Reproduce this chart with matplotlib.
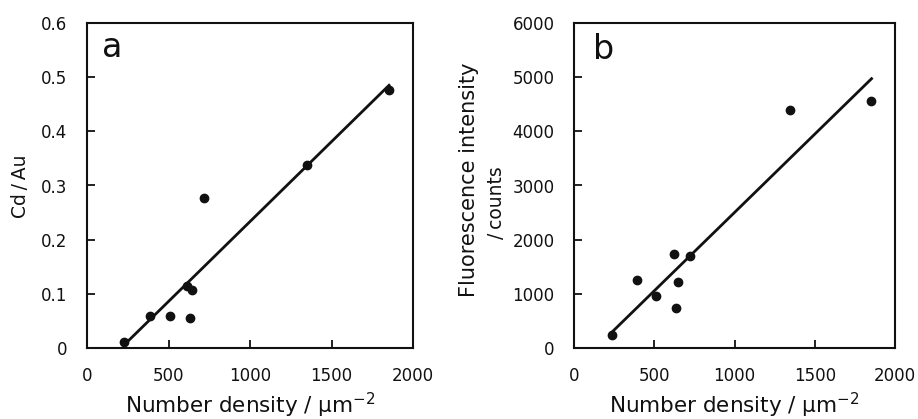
import matplotlib
matplotlib.use("Agg")
import matplotlib.pyplot as plt

plt.rcParams['font.family'] = ['DejaVu Sans']

# Panel a data
density_a = [229, 388, 510, 616, 643, 633, 718, 1347, 1853]
cd_au = [0.011, 0.060, 0.060, 0.115, 0.108, 0.055, 0.276, 0.338, 0.476]
fit_x_a = [229, 1853]
fit_y_a = [0.006, 0.485]

# Panel b data
density_b = [235, 390, 513, 623, 646, 636, 721, 1346, 1848]
fluor = [246, 1249, 954, 1735, 1212, 732, 1705, 4388, 4554]
fit_x_b = [235, 1854]
fit_y_b = [289, 4972]

x_ticks = [0, 500, 1000, 1500, 2000]
a_ticks = [0, 0.1, 0.2, 0.3, 0.4, 0.5, 0.6]
a_ticklabels = ['0', '0.1', '0.2', '0.3', '0.4', '0.5', '0.6']
b_ticks = [0, 1000, 2000, 3000, 4000, 5000, 6000]

W, H = 918, 419
fig = plt.figure(figsize=(W / 100, H / 100), dpi=100)

def rect(l, r, t, b):
    return [l / W, 1 - b / H, (r - l) / W, (b - t) / H]

def ftext(x, y, s, **kw):
    fig.text(x / W, 1 - y / H, s, **kw)

ax1 = fig.add_axes(rect(87, 413, 23, 348))
ax2 = fig.add_axes(rect(574, 895, 23, 348))

xlabel = r'Number density / μm$^{\mathregular{-2}}$'
ink = '#111111'

for ax in (ax1, ax2):
    ax.set_xlim(0, 2000)
    ax.set_xticks(x_ticks)
    ax.set_xticklabels([str(t) for t in x_ticks])
    for s in ax.spines.values():
        s.set_linewidth(1.5)
        s.set_color(ink)
    ax.tick_params(direction='in', length=5.5, width=1.3, labelsize=12,
                   colors=ink)
    ax.tick_params(axis='x', pad=14)
    ax.tick_params(axis='y', pad=14)
    ax.set_xlabel(xlabel, fontsize=15.5, labelpad=4, color=ink)

ax1.plot(fit_x_a, fit_y_a, color=ink, lw=2)
ax1.plot(density_a, cd_au, 'o', color=ink, ms=6)
ax1.set_ylim(0, 0.6)
ax1.set_yticks(a_ticks)
ax1.set_yticklabels(a_ticklabels)
ax1.text(0.045, 0.895, 'a', transform=ax1.transAxes, fontsize=24,
         va='baseline', ha='left', color=ink)
ftext(20, 186, 'Cd\u2009/\u2009Au', rotation=90, fontsize=13.5, ha='center',
      va='center', color=ink)

ax2.plot(fit_x_b, fit_y_b, color=ink, lw=2)
ax2.plot(density_b, fluor, 'o', color=ink, ms=6)
ax2.set_ylim(0, 6000)
ax2.set_yticks(b_ticks)
ax2.set_yticklabels([str(t) for t in b_ticks])
ax2.text(0.06, 0.89, 'b', transform=ax2.transAxes, fontsize=24,
         va='baseline', ha='left', color=ink)
ftext(469, 180, 'Fluorescence intensity', rotation=90, fontsize=15,
      ha='center', va='center', color=ink)
ftext(497, 203, '/\u2009counts', rotation=90, fontsize=13.5, ha='center',
      va='center', color=ink)

fig.savefig('out.png', dpi=100)
